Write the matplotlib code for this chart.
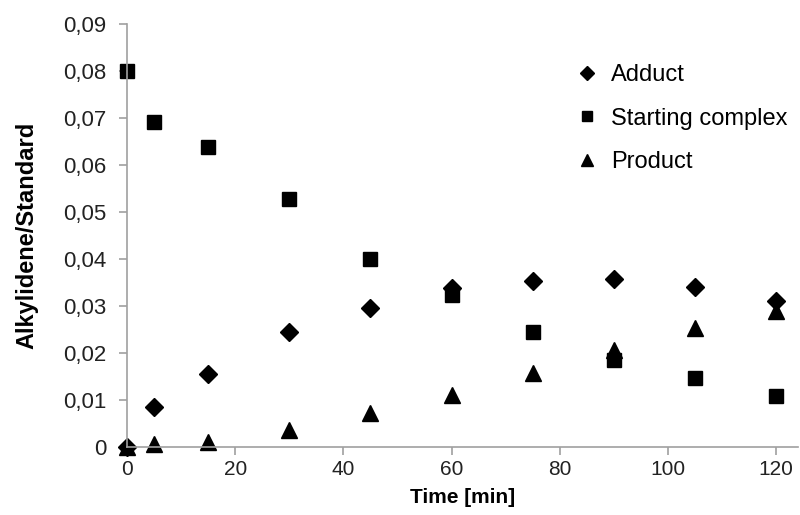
import matplotlib.pyplot as plt
from matplotlib.ticker import FuncFormatter

plt.rcParams["font.family"] = ["Liberation Sans", "DejaVu Sans"]

time_min = [0, 5, 15, 30, 45, 60, 75, 90, 105, 120]
adduct = [0.0, 0.0085, 0.0156, 0.0244, 0.0295, 0.0338, 0.0353, 0.0357, 0.0341, 0.0311]
starting_complex = [0.0801, 0.0692, 0.0639, 0.0528, 0.0401, 0.0323, 0.0244, 0.0186, 0.0147, 0.0109]
product = [0.0, 0.0006, 0.001, 0.0036, 0.0073, 0.0111, 0.0158, 0.0207, 0.0254, 0.029]

fig = plt.figure(figsize=(8, 5.15), dpi=100)
ax = fig.add_axes([0.159, 0.132, 0.838, 0.821])

ax.plot(time_min, adduct, "D", color="black", markersize=9, label="Adduct", clip_on=False)
ax.plot(time_min, starting_complex, "s", color="black", markersize=9.5, label="Starting complex", clip_on=False)
ax.plot(time_min, product, "^", color="black", markersize=11, label="Product", clip_on=False)

ax.set_xlim(0, 124)
ax.set_ylim(0, 0.09)
ax.set_xticks([0, 20, 40, 60, 80, 100, 120])
ax.set_yticks([i / 100 for i in range(10)])
ax.yaxis.set_major_formatter(FuncFormatter(lambda v, p: "0" if v == 0 else f"{v:.2f}".replace(".", ",")))

for s in ["top", "right"]:
    ax.spines[s].set_visible(False)
for s in ["left", "bottom"]:
    ax.spines[s].set_color("#a0a0a0")
    ax.spines[s].set_linewidth(1.2)
ax.tick_params(colors="#a0a0a0", labelcolor="#222222", length=6, width=1.2)
ax.tick_params(axis="x", labelsize=15)
ax.tick_params(axis="y", labelsize=16, pad=9)

ax.set_xlabel("Time [min]", fontsize=15, fontweight="bold", labelpad=6)
ax.set_ylabel("Alkylidene/Standard", fontsize=17, fontweight="bold", labelpad=18)

ax.legend(loc="upper left", bbox_to_anchor=(0.619, 0.9555), frameon=False, fontsize=17,
          handletextpad=0.0, labelspacing=0.9, markerscale=0.75)

plt.savefig("out.png")
plt.close()
